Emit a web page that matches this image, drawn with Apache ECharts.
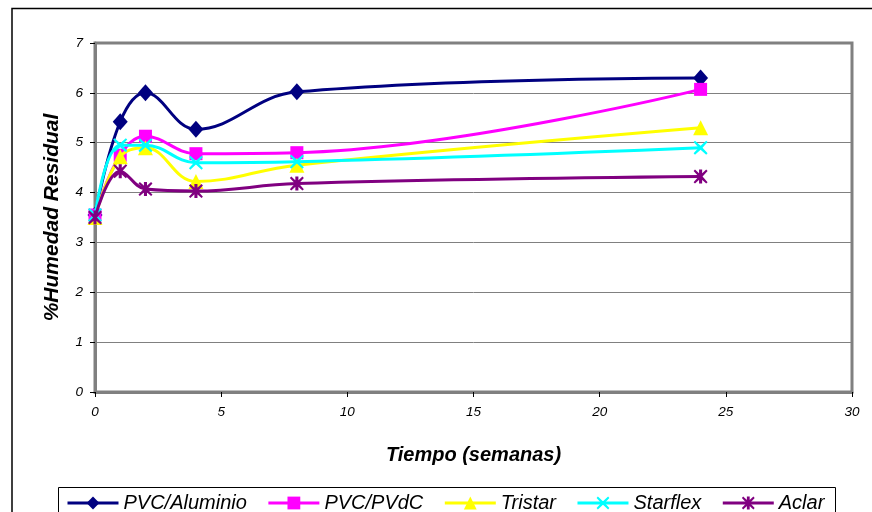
<!DOCTYPE html>
<html><head><meta charset="utf-8">
<script src="https://cdn.jsdelivr.net/npm/echarts@6/dist/echarts.min.js"></script>
<style>html,body{margin:0;padding:0;background:#fff}#c{width:872px;height:512px}</style>
</head><body><div id="c"></div>
<script>
const weeks = [0, 1, 2, 4, 8, 24];
const seriesNames = ['PVC/Aluminio', 'PVC/PVdC', 'Tristar', 'Starflex', 'Aclar'];
const pvcAluminio = [3.55, 5.42, 6.0, 5.27, 6.02, 6.3];
const pvcPvdc = [3.55, 4.75, 5.13, 4.78, 4.8, 6.07];
const tristar = [3.5, 4.72, 4.9, 4.22, 4.55, 5.3];
const starflex = [3.55, 4.95, 4.95, 4.6, 4.62, 4.9];
const aclar = [3.5, 4.43, 4.07, 4.03, 4.18, 4.32];
const xTitle = 'Tiempo (semanas)';
const yTitle = '%Humedad Residual';

const values = [pvcAluminio, pvcPvdc, tristar, starflex, aclar];
const colors = ['#000080', '#FF00FF', '#FFFF00', '#00FFFF', '#800080'];
const xPath = 'path://M1,0 L5,3.6 L9,0 L10,1 L6.4,5 L10,9 L9,10 L5,6.4 L1,10 L0,9 L3.6,5 L0,1 Z';
const starPath = 'path://M1,0 L5,3.6 L9,0 L10,1 L6.4,5 L10,9 L9,10 L5,6.4 L1,10 L0,9 L3.6,5 L0,1 Z M3.9,0 L6.1,0 L6.1,10 L3.9,10 Z';
const symbols = ['diamond', 'rect', 'triangle', xPath, starPath];
const sizes = [[15, 17], 13, 15, 14, 14];
const font = 'Arial, "Liberation Sans", sans-serif';

const chart = echarts.init(document.getElementById('c'), null, {renderer: 'canvas'});
chart.setOption({
  animation: false,
  backgroundColor: '#fff',
  grid: {left: 95, right: 20, top: 43, bottom: 120, show: true, borderColor: '#808080', borderWidth: 3, backgroundColor: 'transparent'},
  xAxis: {
    type: 'value', min: 0, max: 30, interval: 5,
    name: xTitle, nameLocation: 'middle', nameGap: 53,
    nameTextStyle: {fontSize: 20, fontWeight: 'bold', fontStyle: 'italic', fontFamily: font, color: '#000'},
    axisLine: {show: true, lineStyle: {color: '#808080', width: 3}},
    axisTick: {show: true, length: 5, lineStyle: {color: '#000', width: 1}},
    axisLabel: {fontSize: 13.5, fontStyle: 'italic', fontFamily: font, color: '#000', margin: 13},
    splitLine: {show: false}
  },
  yAxis: {
    type: 'value', min: 0, max: 7, interval: 1,
    name: yTitle, nameLocation: 'middle', nameGap: 32,
    nameTextStyle: {fontSize: 21, fontWeight: 'bold', fontStyle: 'italic', fontFamily: font, color: '#000'},
    axisLine: {show: true, lineStyle: {color: '#808080', width: 3}},
    axisTick: {show: true, length: 5, lineStyle: {color: '#000', width: 1}},
    axisLabel: {fontSize: 13.5, fontStyle: 'italic', fontFamily: font, color: '#000', margin: 12},
    splitLine: {show: true, lineStyle: {color: '#808080', width: 1}}
  },
  legend: {
    left: 66, top: 493, padding: 0, orient: 'horizontal',
    itemWidth: 51, itemHeight: 16, itemGap: 20,
    lineStyle: {width: 3},
    textStyle: {fontSize: 20, fontStyle: 'italic', fontFamily: font, color: '#000'},
    data: seriesNames
  },
  graphic: [
    {type: 'polyline', silent: true, shape: {points: [[12, 512], [12, 8.5], [872, 8.5]]}, style: {stroke: '#000', lineWidth: 1.5, fill: null}},
    {type: 'polyline', silent: true, shape: {points: [[58.5, 512], [58.5, 487.5], [835.5, 487.5], [835.5, 512]]}, style: {stroke: '#000', lineWidth: 1, fill: null}}
  ],
  series: seriesNames.map((n, i) => ({
    name: n, type: 'line', smooth: 0.4,
    data: weeks.map((w, j) => [w, values[i][j]]),
    symbol: symbols[i], symbolSize: sizes[i], showSymbol: true,
    lineStyle: {color: colors[i], width: 3},
    itemStyle: {color: colors[i], borderWidth: 0},
    z: 2 + i
  }))
});
</script></body></html>
